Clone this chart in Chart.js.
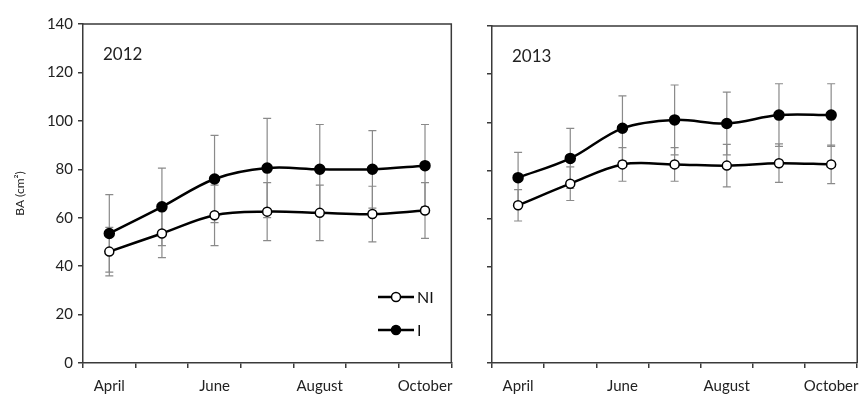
<!DOCTYPE html>
<html>
<head>
<meta charset="utf-8">
<script src="https://cdn.jsdelivr.net/npm/chart.js@4"></script>
<style>
  body { margin: 0; background: #fff; }
  .panel { position: absolute; top: 0; height: 396px; }
  #left_wrap { left: 0; width: 462px; }
  #right_wrap { left: 462px; width: 406px; }
</style>
</head>
<body>
<div class="panel" id="left_wrap"><canvas id="left_graph"></canvas></div>
<div class="panel" id="right_wrap"><canvas id="right_graph"></canvas></div>
<script>
// month categories and the labels actually printed under the axis
var months = ['April', 'May', 'June', 'July', 'August', 'September', 'October'];
var tickLabels = ['April', '', 'June', '', 'August', '', 'October'];
var yTicks = [0, 20, 40, 60, 80, 100, 120, 140];

// 2012 - means and error bars
var ni2012 = [46, 53.5, 61, 62.5, 62, 61.5, 63];
var ni2012Err = [10, 10, 12.5, 12, 11.5, 11.5, 11.5];
var i2012 = [53.5, 64.5, 76, 80.5, 80, 80, 81.5];
var i2012Err = [16, 16, 18, 20.5, 18.5, 16, 17];

// 2013 - means and error bars
var ni2013 = [65.5, 74.5, 82.5, 82.5, 82, 83, 82.5];
var ni2013Err = [6.5, 7, 7, 7, 8.8, 8, 8];
var i2013 = [77, 85, 97.5, 101, 99.5, 103, 103];
var i2013Err = [10.5, 12.5, 13.5, 14.5, 13, 13, 13];

var FONT = 'Lato, "Open Sans", sans-serif';
var AXIS = '#3a3a3a';

// draws the +/- error whiskers through the y scale
var errorBars = {
    id: 'errorBars',
    beforeDatasetsDraw: function (chart) {
        var ctx = chart.ctx;
        var y = chart.scales.y;
        ctx.save();
        ctx.strokeStyle = '#8a8a8a';
        ctx.lineWidth = 1.2;
        chart.data.datasets.forEach(function (ds, i) {
            var meta = chart.getDatasetMeta(i);
            meta.data.forEach(function (pt, j) {
                var top = y.getPixelForValue(ds.data[j] + ds.err[j]);
                var bot = y.getPixelForValue(ds.data[j] - ds.err[j]);
                ctx.beginPath();
                ctx.moveTo(pt.x, top); ctx.lineTo(pt.x, bot);
                ctx.moveTo(pt.x - 4, top); ctx.lineTo(pt.x + 4, top);
                ctx.moveTo(pt.x - 4, bot); ctx.lineTo(pt.x + 4, bot);
                ctx.stroke();
            });
        });
        ctx.restore();
    }
};

// box round the plot area, the year label and (left only) the legend
var frame = {
    id: 'frame',
    afterDraw: function (chart, args, opts) {
        var ctx = chart.ctx;
        var a = chart.chartArea;
        ctx.save();
        ctx.strokeStyle = AXIS;
        ctx.lineWidth = 1.5;
        ctx.beginPath();
        ctx.moveTo(a.left, a.top); ctx.lineTo(a.right, a.top); ctx.lineTo(a.right, a.bottom);
        ctx.stroke();

        ctx.fillStyle = '#222';
        ctx.font = '17px ' + FONT;
        ctx.textBaseline = 'middle';
        ctx.fillText(opts.year, a.left + 20, a.top + 31);

        if (opts.legend) {
            var rows = [['NI', '#fff', a.top + 273], ['I', '#000', a.top + 306]];
            rows.forEach(function (r) {
                var x0 = a.left + 295;
                ctx.strokeStyle = '#000';
                ctx.lineWidth = 2.5;
                ctx.beginPath();
                ctx.moveTo(x0, r[2]); ctx.lineTo(x0 + 36, r[2]);
                ctx.stroke();
                ctx.beginPath();
                ctx.arc(x0 + 18, r[2], 4.5, 0, Math.PI * 2);
                ctx.fillStyle = r[1];
                ctx.fill();
                ctx.lineWidth = 1.5;
                ctx.stroke();
                ctx.fillStyle = '#111';
                ctx.font = '16px ' + FONT;
                ctx.fillText(r[0], x0 + 39, r[2] + 1);
            });
        }
        ctx.restore();
    }
};

function makeChart(el, niData, niErr, iData, iErr, year, isLeft) {
    return new Chart(document.getElementById(el), {
        type: 'line',
        data: {
            labels: tickLabels,
            datasets: [{
                label: 'NI',
                data: niData,
                err: niErr,
                borderColor: '#000',
                borderWidth: 2.5,
                pointBackgroundColor: '#fff',
                pointBorderColor: '#000',
                pointBorderWidth: 1.5,
                pointRadius: 4.5,
                tension: 0.35
            }, {
                label: 'I',
                data: iData,
                err: iErr,
                borderColor: '#000',
                borderWidth: 2.5,
                pointBackgroundColor: '#000',
                pointBorderColor: '#000',
                pointRadius: 4.5,
                tension: 0.35
            }]
        },
        options: {
            responsive: false,
            animation: false,
            layout: { padding: { top: isLeft ? 24 : 26, right: isLeft ? 9 : 5, left: 0, bottom: 0 } },
            plugins: {
                legend: { display: false },
                tooltip: { enabled: false },
                frame: { year: year, legend: isLeft }
            },
            scales: {
                x: {
                    offset: true,
                    border: { color: AXIS, width: 1.5 },
                    grid: { drawOnChartArea: false, tickLength: 5, color: AXIS, lineWidth: 1.5, offset: true },
                    ticks: { autoSkip: false, maxRotation: 0, color: '#222', font: { family: FONT, size: 15 }, padding: 9 },
                    afterFit: function (s) { s.height = 33; }
                },
                y: {
                    min: 0,
                    max: 140,
                    afterBuildTicks: function (s) { s.ticks = yTicks.map(function (v) { return { value: v }; }); },
                    border: { color: AXIS, width: 1.5 },
                    grid: { drawOnChartArea: false, tickLength: 5, color: AXIS, lineWidth: 1.5 },
                    ticks: {
                        display: isLeft,
                        color: '#222',
                        font: { family: FONT, size: 15 },
                        padding: 5
                    },
                    title: {
                        display: isLeft,
                        text: 'BA (cm²)',
                        color: '#222',
                        font: { family: FONT, size: 12 },
                        padding: { top: 13, bottom: 4 }
                    },
                    afterFit: function (s) { s.width = isLeft ? 83 : 30; }
                }
            }
        },
        plugins: [errorBars, frame]
    });
}

var canvL = document.getElementById('left_graph');
canvL.width = 462; canvL.height = 396;
var canvR = document.getElementById('right_graph');
canvR.width = 406; canvR.height = 396;

makeChart('left_graph', ni2012, ni2012Err, i2012, i2012Err, '2012', true);
makeChart('right_graph', ni2013, ni2013Err, i2013, i2013Err, '2013', false);
</script>
</body>
</html>
